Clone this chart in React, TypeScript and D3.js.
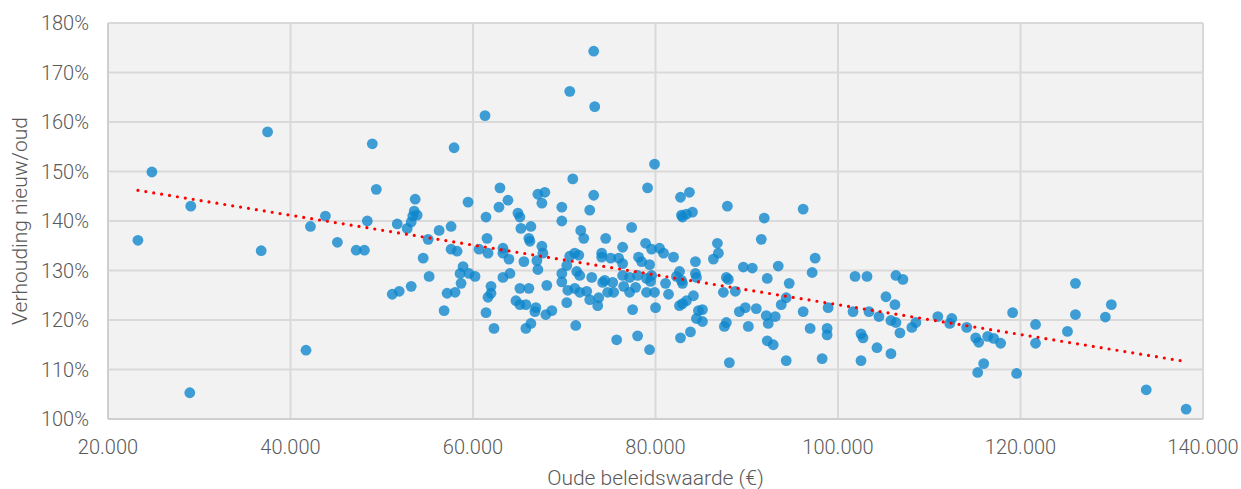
import React from "react";
import * as d3 from "d3";

// Oude beleidswaarde (€)
const oudeWaarde: number[] = [
  23279, 24809, 29072, 28963, 36788, 37488, 41700, 42188, 43827, 45139, 47200, 48100, 48418, 48965, 49403,
  53664, 53555, 53883, 51697, 53227, 52790, 55085, 56288, 57599, 59457, 54539, 57599, 58255, 61425, 62955,
  62846, 63830, 67109, 67874, 67546, 69733, 64923, 65142, 65251, 66344, 66125, 66235, 69733, 61535, 60661,
  61644, 63283, 63283, 63939, 65579, 67546, 67656, 66999, 67109, 58911, 58583, 59567, 60223, 55194, 63283,
  64048, 69733, 69733, 51151, 51916, 53227, 57162, 58036, 58692, 56834, 61972, 61972, 61644, 61425, 62299,
  65142, 66125, 68092, 64704, 65142, 65798, 66891, 66781, 67984, 68640, 65798, 66344, 53400,
  79896, 70934, 73229, 79131, 72792, 82738, 83721, 82957, 83394, 84050, 82848, 87875, 71808, 72136, 74541,
  77383, 76399, 78913, 79569, 80443, 80880, 81973, 86782, 86891, 86345, 84378, 74104, 74104, 75088, 75962,
  76399, 78148, 78476, 79350, 71152, 71589, 70606, 70278, 82629, 84378, 87766, 71370, 71698, 73011, 74432,
  76399, 77164, 78038, 79022, 79569, 82301, 82848,
  70388, 71152, 70278, 71698, 72464, 72792, 73666, 73776, 74213, 74760, 75416, 75306, 76509, 77164, 77820,
  79022, 79896, 79459, 81098, 81426, 77492, 80005, 71261, 75743, 78038, 79350, 82957, 84487, 87438, 84159,
  83394, 82957, 82629, 85143, 84706, 84487, 85143, 83831, 82738, 87766, 87547, 88094,
  70606, 73229, 73339, 61316, 57927,
  91920, 91592, 96183, 97495, 97167, 89625, 90609, 93451, 87985, 92248, 94653, 88750, 94325, 93778, 89843,
  89187, 91045, 92138, 93122, 92357, 96183, 98916, 90171, 96948, 98807, 98807, 92248, 92904, 94325, 98260,
  101867, 103179, 106349, 107114, 105255, 106240, 101648, 103397, 104490, 105802, 106349, 106786, 108097, 108535, 102523,
  102742, 104271, 105802, 102523,
  110937, 112467, 112248, 114107, 115091, 115419, 116403, 117059, 117824, 115966, 115310, 119136, 119573, 121650, 121650,
  125148, 126022, 126022, 129301, 129957, 133781, 138153,
];

// Verhouding nieuw/oud (%)
const verhouding: number[] = [
  136.1, 149.9, 143.0, 105.3, 134.0, 158.0, 113.9, 138.9, 141.0, 135.7, 134.1, 134.1, 140.0, 155.6, 146.4,
  144.4, 142.0, 141.2, 139.4, 139.8, 138.5, 136.3, 138.1, 138.9, 143.8, 132.5, 134.3, 133.9, 140.8, 146.7,
  142.8, 144.2, 145.4, 145.8, 143.6, 142.8, 141.6, 140.8, 138.5, 138.9, 136.5, 135.9, 140.0, 136.5, 134.3,
  133.5, 134.5, 133.5, 132.3, 131.8, 134.9, 133.5, 132.0, 130.2, 130.8, 129.4, 129.4, 128.8, 128.8, 128.6,
  129.4, 129.4, 127.7, 125.2, 125.8, 126.8, 125.4, 125.6, 127.4, 121.9, 126.8, 125.4, 124.6, 121.5, 118.3,
  126.4, 126.4, 127.0, 123.9, 123.1, 123.1, 122.5, 121.7, 121.1, 121.9, 118.3, 119.3, 141.0,
  151.5, 148.5, 145.2, 146.7, 142.2, 144.8, 145.8, 140.8, 141.4, 141.8, 141.2, 143.0, 138.1, 136.5, 136.5,
  138.7, 134.7, 135.5, 134.3, 134.5, 133.5, 132.7, 135.5, 133.5, 132.3, 131.8, 133.5, 132.7, 132.5, 132.5,
  131.4, 132.7, 131.8, 131.2, 133.5, 133.1, 132.9, 131.0, 129.8, 129.4, 128.6, 129.8, 129.0, 128.6, 128.0,
  129.0, 128.6, 129.0, 128.4, 129.0, 128.8, 128.0,
  126.0, 126.4, 123.5, 125.6, 125.8, 124.1, 122.9, 124.5, 127.6, 125.6, 125.6, 127.6, 126.8, 125.6, 126.6,
  125.6, 125.6, 127.8, 127.4, 125.2, 122.1, 122.5, 118.9, 116.0, 116.8, 114.0, 127.4, 128.6, 125.6, 124.9,
  123.9, 123.3, 122.9, 122.1, 121.9, 120.3, 119.7, 117.6, 116.4, 119.5, 118.7, 111.4,
  166.2, 174.3, 163.1, 161.3, 154.8,
  140.6, 136.3, 142.4, 132.5, 129.6, 130.7, 130.5, 130.9, 128.2, 128.4, 127.4, 125.8, 124.5, 123.1, 122.5,
  121.7, 122.3, 120.9, 120.7, 119.3, 121.7, 122.5, 118.7, 118.3, 118.3, 117.0, 115.8, 115.0, 111.8, 112.2,
  128.8, 128.8, 129.0, 128.2, 124.7, 123.1, 121.7, 121.7, 120.7, 119.9, 119.5, 117.4, 118.5, 119.5, 117.2,
  116.4, 114.4, 113.2, 111.8,
  120.7, 120.3, 119.3, 118.5, 116.4, 115.5, 116.7, 116.3, 115.3, 111.2, 109.4, 121.5, 109.2, 119.1, 115.3,
  117.7, 127.4, 121.1, 120.6, 123.1, 105.9, 102.0,
];

const trendX: number[] = [23279, 138153];
const trendY: number[] = [146.2, 111.6];

const xTicks: number[] = [20000, 40000, 60000, 80000, 100000, 120000, 140000];
const yTicks: number[] = [100, 110, 120, 130, 140, 150, 160, 170, 180];

const xTitle = "Oude beleidswaarde (€)";
const yTitle = "Verhouding nieuw/oud";

const W = 1241;
const H = 489;
const M = { left: 108, right: 1203, top: 23, bottom: 419 };
const FONT = "Roboto, 'Open Sans', sans-serif";
const TXT = "#595959";
const GRID = "#d9d9d9";

const fmtX = (v: number) => d3.format(",")(v).replace(/,/g, ".");

export default function App() {
  const x = d3.scaleLinear().domain([20000, 140000]).range([M.left, M.right]);
  const y = d3.scaleLinear().domain([100, 180]).range([M.bottom, M.top]);
  const pts = oudeWaarde.map((v, i) => ({ x: v, y: verhouding[i] }));
  const trend = d3
    .line<number>()
    .x((d) => x(d))
    .y((_, i) => y(trendY[i]));

  return (
    <svg
      width={W}
      height={H}
      style={{ position: "absolute", left: 0, top: 0, background: "#fff" }}
    >
      <rect
        x={M.left}
        y={M.top}
        width={M.right - M.left}
        height={M.bottom - M.top}
        fill="#f2f2f2"
      />
      {yTicks.map((t) => (
        <line
          key={"gy" + t}
          x1={M.left}
          x2={M.right}
          y1={y(t)}
          y2={y(t)}
          stroke={GRID}
          strokeWidth={2}
        />
      ))}
      {xTicks.map((t) => (
        <line
          key={"gx" + t}
          x1={x(t)}
          x2={x(t)}
          y1={M.top}
          y2={M.bottom}
          stroke={GRID}
          strokeWidth={2}
        />
      ))}
      <line x1={M.left} x2={M.left} y1={M.top} y2={M.bottom} stroke="#cfcfcf" strokeWidth={2} />
      <line x1={M.left} x2={M.right} y1={M.bottom} y2={M.bottom} stroke="#cfcfcf" strokeWidth={2} />

      {pts.map((p, i) => (
        <circle
          key={i}
          cx={x(p.x)}
          cy={y(p.y)}
          r={5.4}
          fill="#0f87cc"
          fillOpacity={0.8}
        />
      ))}

      <path
        d={trend(trendX) || ""}
        fill="none"
        stroke="#ff0000"
        strokeWidth={3.2}
        strokeLinecap="round"
        strokeDasharray="0 8"
      />

      {yTicks.map((t) => (
        <text
          key={"ty" + t}
          x={M.left - 19}
          y={y(t)}
          dy="0.36em"
          textAnchor="end"
          fontFamily={FONT}
          fontWeight={300}
          fontSize={20}
          fill={TXT}
        >
          {t + "%"}
        </text>
      ))}
      {xTicks.map((t) => (
        <text
          key={"tx" + t}
          x={x(t)}
          y={454}
          textAnchor="middle"
          fontFamily={FONT}
          fontWeight={300}
          fontSize={20}
          fill={TXT}
        >
          {fmtX(t)}
        </text>
      ))}
      <text
        x={(M.left + M.right) / 2}
        y={485}
        textAnchor="middle"
        fontFamily={FONT}
        fontWeight={300}
        fontSize={21}
        fill={TXT}
      >
        {xTitle}
      </text>
      <text
        transform={`translate(27,${(M.top + M.bottom) / 2}) rotate(-90)`}
        textAnchor="middle"
        fontFamily={FONT}
        fontWeight={300}
        fontSize={21}
        fill={TXT}
      >
        {yTitle}
      </text>
    </svg>
  );
}
